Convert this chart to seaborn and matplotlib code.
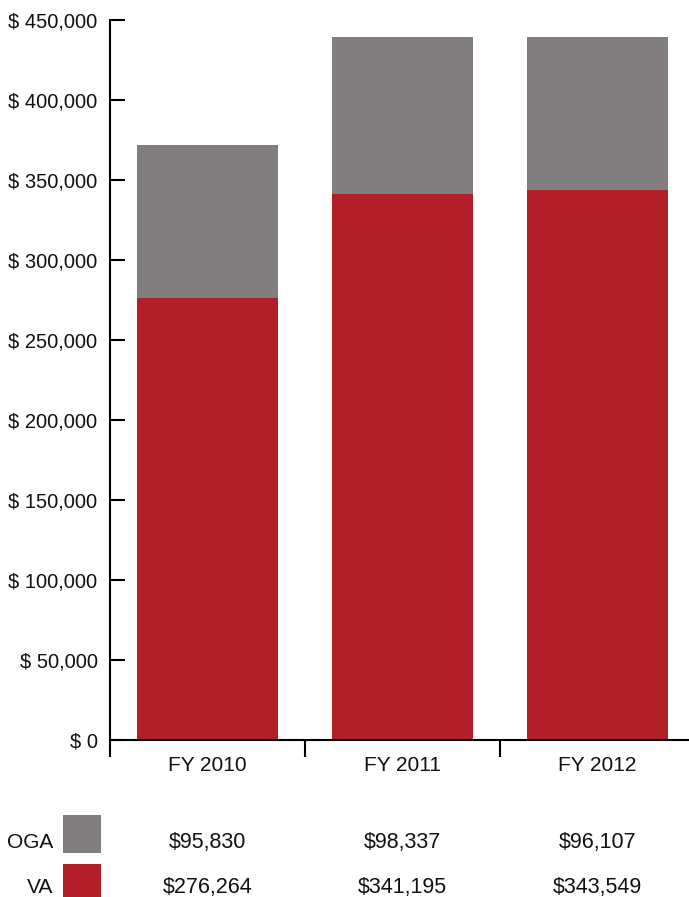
import matplotlib
matplotlib.use("Agg")
import matplotlib.pyplot as plt
import matplotlib.transforms as mtransforms
from matplotlib.patches import Rectangle
from matplotlib.ticker import FuncFormatter, FixedLocator
import seaborn as sns
import pandas as pd

years = ["FY 2010", "FY 2011", "FY 2012"]
va = [276264, 341195, 343549]
oga = [95830, 98337, 96107]
series_names = ["OGA", "VA"]
yticks = [0, 50000, 100000, 150000, 200000, 250000, 300000, 350000, 400000, 450000]

GRAY = "#827d7e"
RED = "#b21f28"
TXT = "#111111"

sns.set_theme(style="white")
plt.rcParams["font.family"] = ["Liberation Sans", "DejaVu Sans"]

df = pd.DataFrame({"year": years, "VA": va, "OGA": oga})
df["total"] = df["VA"] + df["OGA"]

W, H = 689, 897
fig = plt.figure(figsize=(W / 100, H / 100), dpi=100)
ax = fig.add_axes([110 / W, 1 - 740 / H, (W - 110) / W, 720 / H])

sns.barplot(data=df, x="year", y="total", color=GRAY, width=0.72,
            saturation=1, ax=ax, edgecolor="none", linewidth=0)
sns.barplot(data=df, x="year", y="VA", color=RED, width=0.72,
            saturation=1, ax=ax, edgecolor="none", linewidth=0)

ax.set_xlim(-0.5, 2.5 - 6 / 195)
ax.set_ylim(0, 450000)
ax.set_xlabel("")
ax.set_ylabel("")

for s in ["top", "right"]:
    ax.spines[s].set_visible(False)
for s in ["left", "bottom"]:
    ax.spines[s].set_color("black")
    ax.spines[s].set_linewidth(1.5)

ax.set_yticks(yticks)
ax.yaxis.set_major_formatter(FuncFormatter(lambda v, p: f"$ {v:,.0f}"))
ax.tick_params(axis="y", which="major", direction="in", length=10.8, width=1.5,
               color="black", pad=9, labelsize=14.5, labelcolor=TXT, left=True)

ax.xaxis.set_minor_locator(FixedLocator([-0.5, 0.5, 1.5]))
ax.tick_params(axis="x", which="major", length=0, pad=11.5, labelsize=15,
               labelcolor=TXT)
ax.tick_params(axis="x", which="minor", direction="out", length=12.2, width=1.5,
               color="black", bottom=True)

# table below the chart
trans = mtransforms.blended_transform_factory(ax.transData, fig.transFigure)
rows = [(series_names[0], oga, GRAY, 848, 815, 853),
        (series_names[1], va, RED, 893, 864, 900)]
for name, vals, col, yb, y0, y1 in rows:
    fig.text(53 / W, 1 - yb / H, name, ha="right", va="baseline", fontsize=15,
             color=TXT)
    fig.add_artist(Rectangle((63 / W, 1 - y1 / H), 38 / W, (y1 - y0) / H,
                             transform=fig.transFigure, facecolor=col,
                             edgecolor="none"))
    for i, v in enumerate(vals):
        ax.text(i, 1 - yb / H, f"${v:,.0f}", transform=trans, ha="center",
                va="baseline", fontsize=15.5, color=TXT)

fig.savefig("out.png", dpi=100)
